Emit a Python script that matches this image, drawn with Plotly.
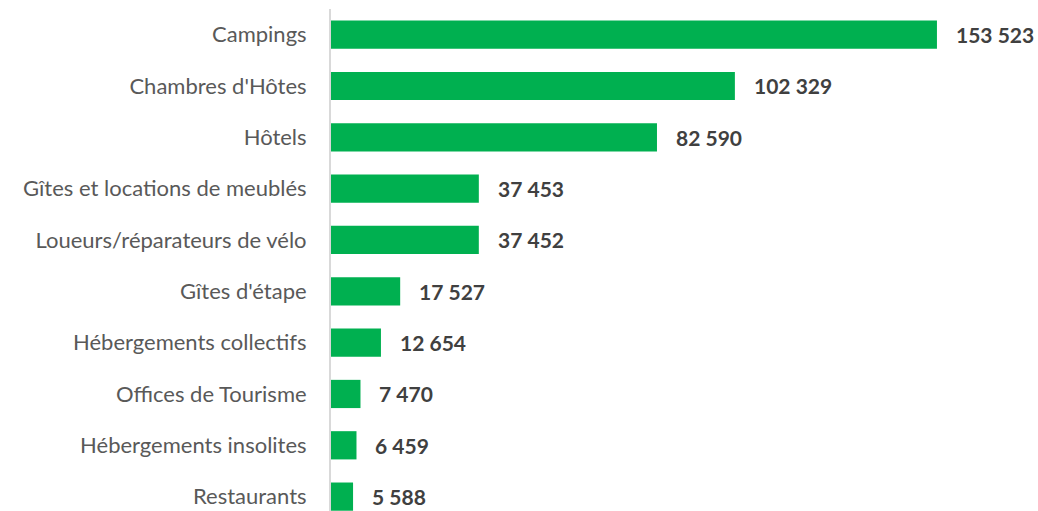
import plotly.graph_objects as go

categories = ["Campings", "Chambres d'Hôtes", "Hôtels", "Gîtes et locations de meublés",
              "Loueurs/réparateurs de vélo", "Gîtes d'étape", "Hébergements collectifs",
              "Offices de Tourisme", "Hébergements insolites", "Restaurants"]
values = [153523, 102329, 82590, 37453, 37452, 17527, 12654, 7470, 6459, 5588]

def fmt(v):
    return f"{v:,}".replace(",", " ")

labels = [fmt(v) for v in values]
FONT = "Lato"

fig = go.Figure(go.Bar(
    x=values, y=categories, orientation="h",
    marker=dict(color="#00B050", line=dict(width=0)),
    width=0.55, hoverinfo="skip",
))

for v, c, t in zip(values, categories, labels):
    fig.add_annotation(x=v, y=c, text=f"<b>{t}</b>", showarrow=False,
                       xanchor="left", yanchor="middle", xshift=17,
                       font=dict(family=FONT, size=21, color="#404040"))

fig.update_layout(
    width=1038, height=511,
    margin=dict(l=331, r=0, t=9, b=0, autoexpand=False),
    paper_bgcolor="white", plot_bgcolor="white",
    showlegend=False,
    font=dict(family=FONT, size=22, color="#595959"),
    xaxis=dict(range=[0, 179124], visible=False, fixedrange=True),
    yaxis=dict(categoryorder="array", categoryarray=categories, fixedrange=True,
               range=[9.28, -0.5], showline=True, linecolor="#D9D9D9", linewidth=2,
               ticks="outside", ticklen=18, tickcolor="rgba(0,0,0,0)",
               showgrid=False, tickfont=dict(family=FONT, size=22, color="#595959")),
)

fig.write_html("out.html",
               config={"displayModeBar": False, "staticPlot": True},
               post_script="document.body.style.margin='0';document.body.style.overflow='hidden';")
